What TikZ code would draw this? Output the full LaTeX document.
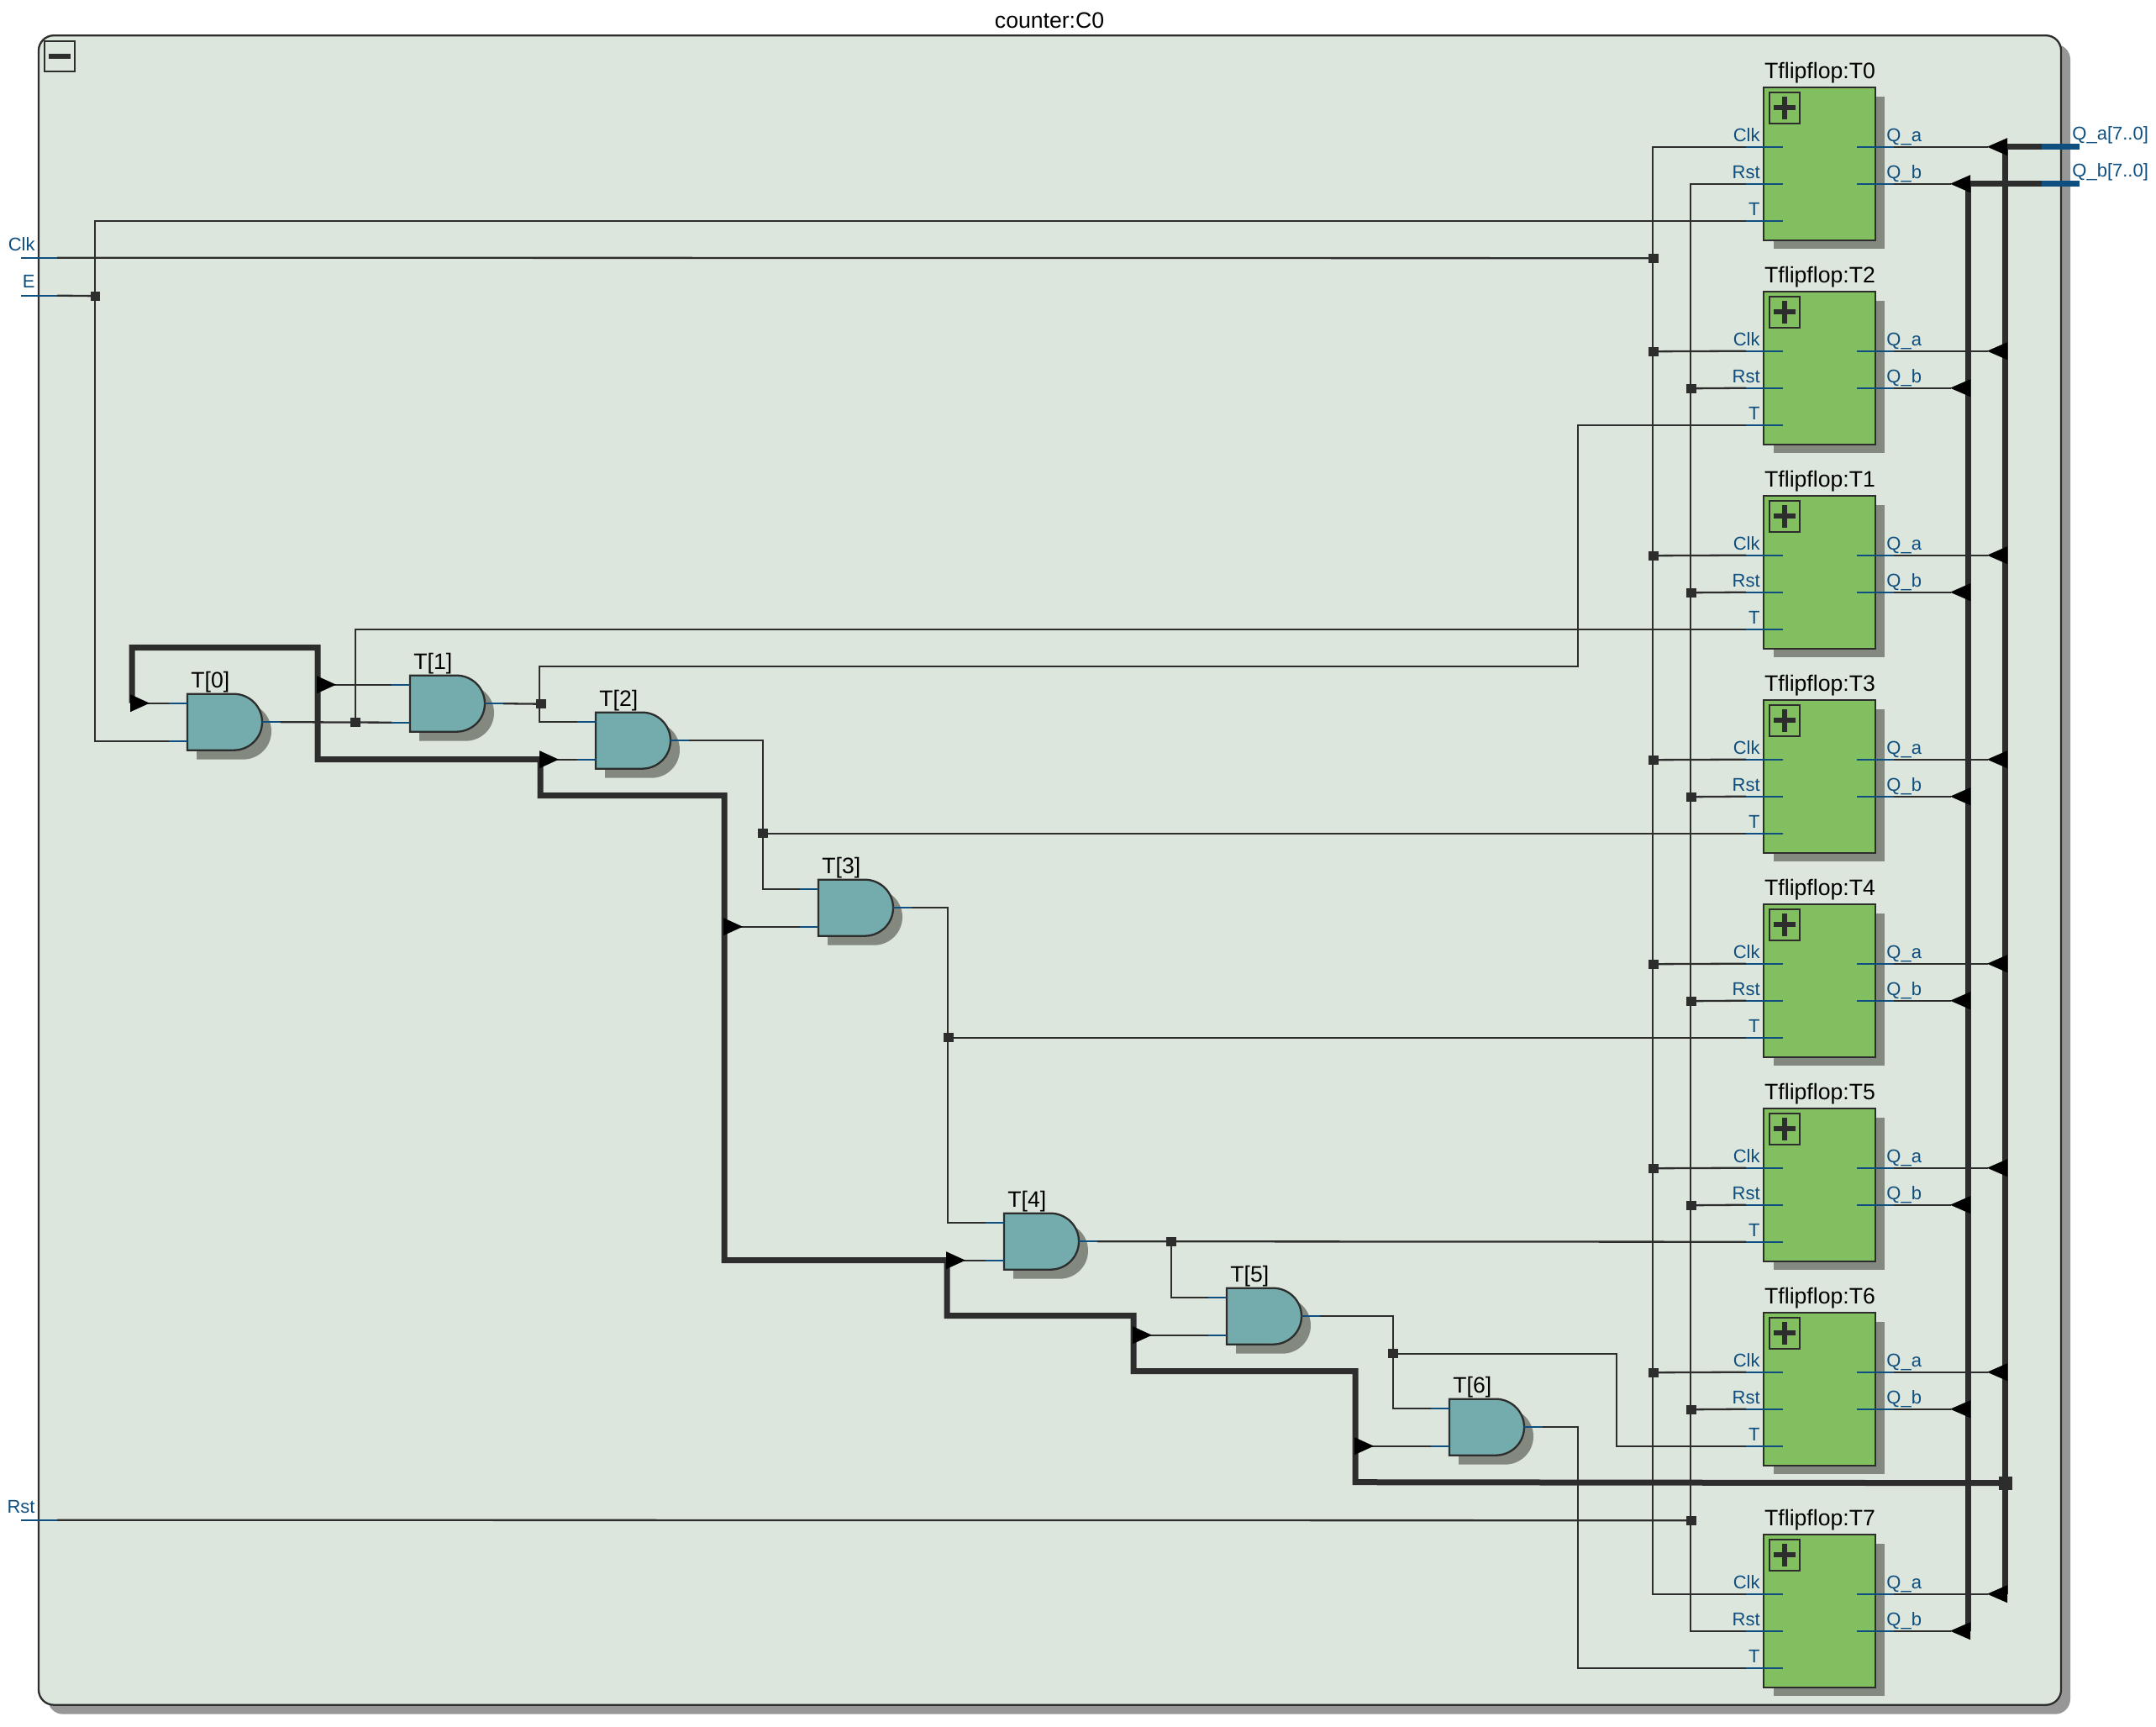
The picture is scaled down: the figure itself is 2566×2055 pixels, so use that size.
\documentclass[tikz,border=0pt]{standalone}
\usepackage{fontspec}
\setmainfont{Liberation Sans}
\definecolor{framefill}{HTML}{DDE6DD}
\definecolor{outshadow}{HTML}{979797}
\definecolor{inshadow}{HTML}{83897F}
\definecolor{ffgreen}{HTML}{82BF60}
\definecolor{gateteal}{HTML}{74ACAD}
\definecolor{darkline}{HTML}{2D2D2D}
\definecolor{portblue}{HTML}{0F4F7F}
\tikzset{
  thinwire/.style={draw=darkline,line width=1.15pt},
  thickwire/.style={draw=darkline,line width=3.5pt},
  portstub/.style={draw=portblue,line width=1.15pt},
  busstub/.style={draw=portblue,line width=3.5pt},
  junc/.style={fill=darkline,inner sep=0pt,minimum size=5.6pt,rectangle},
  bigjunc/.style={fill=darkline,inner sep=0pt,minimum size=8pt,rectangle},
  portlabel/.style={text=portblue,font=\fontsize{11}{12}\selectfont,inner sep=0pt},
  titlelabel/.style={text=black,font=\fontsize{13.3}{15}\selectfont,inner sep=0pt},
  tip/.style={fill=black,draw=none}
}
% flip-flop block: name, top y, title
\newcommand{\ffblock}[3]{%
  \begin{scope}[shift={(2099,#2)}]
    \fill[inshadow] (12,11) rectangle (144,192);
    \node[rectangle,draw=darkline,line width=1.15pt,fill=ffgreen,anchor=north west,
      minimum width=66.5pt,minimum height=91pt,inner sep=0pt,outer sep=0pt] (#1) at (0,0) {};
    \draw[darkline,line width=1.15pt] (7,6) rectangle (43,43);
    \fill[darkline] (12,21.5) rectangle (38,27.5);
    \fill[darkline] (22,11) rectangle (28,38);
    \node[titlelabel,anchor=base] (#1-title) at (67,-10) {Tflipflop:#3};
    \coordinate (#1-clk) at (-21,71);
    \coordinate (#1-rst) at (-21,115);
    \coordinate (#1-t) at (-21,159);
    \coordinate (#1-qa) at (155,71);
    \coordinate (#1-qb) at (155,115);
    \node[portlabel,anchor=base east] (#1-lclk) at (-4,65) {Clk};
    \node[portlabel,anchor=base east] (#1-lrst) at (-4,109) {Rst};
    \node[portlabel,anchor=base east] (#1-lt) at (-4,153) {T};
    \node[portlabel,anchor=base west] (#1-lqa) at (146,65) {Q\_a};
    \node[portlabel,anchor=base west] (#1-lqb) at (146,109) {Q\_b};
  \end{scope}}
% stubs of a flip-flop, drawn over the wires
\newcommand{\ffstubs}[2]{%
  \begin{scope}[shift={(2099,#2)}]
    \draw[portstub] (-21,71) -- (23,71);
    \draw[portstub] (-21,115) -- (23,115);
    \draw[portstub] (-21,159) -- (23,159);
    \draw[portstub] (111,71) -- (155,71);
    \draw[portstub] (111,115) -- (155,115);
  \end{scope}}
% AND gate: name, x, y, label
\newcommand{\gateblock}[4]{%
  \begin{scope}[shift={(#2,#3)}]
    \fill[inshadow,shift={(11,11)}] (0,0) -- (55,0) .. controls (74,0) and (89,15) .. (89,33.5)
      .. controls (89,52) and (74,67) .. (55,67) -- (0,67) -- cycle;
    \draw[darkline,fill=gateteal,line width=1.15pt] (0,0) -- (55,0) .. controls (74,0) and (89,15) .. (89,33.5)
      .. controls (89,52) and (74,67) .. (55,67) -- (0,67) -- cycle;
    \node[titlelabel,anchor=base west] (#1-label) at (4,-7) {#4};
    \coordinate (#1-a) at (-22,11);
    \coordinate (#1-b) at (-22,56);
    \coordinate (#1-y) at (111,33.5);
    \draw[portstub] (-22,11) -- (0,11);
    \draw[portstub] (-22,56) -- (0,56);
  \end{scope}}
\newcommand{\gatestub}[3]{%
  \draw[portstub] (#2+89,#3+33.5) -- (#2+111,#3+33.5);}
% triangular tips
\newcommand{\tipright}[2]{\fill[tip] (#1,#2-10.5) -- (#1+23,#2) -- (#1,#2+10.5) -- cycle;}
\newcommand{\tipleft}[2]{\fill[tip] (#1,#2-10.5) -- (#1-24,#2) -- (#1,#2+10.5) -- cycle;}
\begin{document}
\begin{tikzpicture}[x=0.5pt,y=-0.5pt,shift={(0,0.7)}]
\useasboundingbox (0,-0.7) rectangle (2566,2054.3);
\fill[white] (0,-0.7) rectangle (2566,2054.3);
% frame
\fill[outshadow,rounded corners=9pt] (57,52) rectangle (2464,2039);
\draw[draw=darkline,fill=framefill,line width=1.15pt,rounded corners=9pt] (46,41.5) rectangle (2453,2028);
\node[titlelabel,anchor=base] (frametitle) at (1249,33) {counter:C0};
\draw[darkline,line width=1.15pt] (53,48) rectangle (89,84);
\fill[darkline] (58,63) rectangle (84,69);
% flip-flops
\ffblock{ffa}{103}{T0}
\ffblock{ffb}{346}{T2}
\ffblock{ffc}{589}{T1}
\ffblock{ffd}{832}{T3}
\ffblock{ffe}{1075}{T4}
\ffblock{fff}{1318}{T5}
\ffblock{ffg}{1561}{T6}
\ffblock{ffh}{1825}{T7}
% gates
\gateblock{ga}{223}{825}{T[0]}
\gateblock{gb}{488}{803}{T[1]}
\gateblock{gc}{709}{847}{T[2]}
\gateblock{gd}{974}{1046}{T[3]}
\gateblock{ge}{1195}{1443}{T[4]}
\gateblock{gf}{1460}{1532}{T[5]}
\gateblock{gg}{1725}{1664}{T[6]}
% inputs and outputs
\coordinate (inclk) at (68,306);
\coordinate (ine) at (68,351);
\coordinate (inrst) at (68,1808);
\coordinate (outa) at (2430,174);
\coordinate (outb) at (2430,218);
\node[portlabel,anchor=base east] (lclk) at (42,298) {Clk};
\node[portlabel,anchor=base east] (le) at (42,342) {E};
\node[portlabel,anchor=base east] (lrst) at (42,1800) {Rst};
\node[portlabel,anchor=base west] (lqa) at (2466,166) {Q\_a[7..0]};
\node[portlabel,anchor=base west] (lqb) at (2466,210) {Q\_b[7..0]};
% junctions
\node[junc] (je) at (113.5,351.5) {};
\node[junc] (jclk) at (1968,306.5) {};
\node[junc] (jrst) at (2013,1808.5) {};
\node[junc] (jc2) at (1968,417.5) {};
\node[junc] (jc3) at (1968,660.5) {};
\node[junc] (jc4) at (1968,903.5) {};
\node[junc] (jc5) at (1968,1146.5) {};
\node[junc] (jc6) at (1968,1389.5) {};
\node[junc] (jc7) at (1968,1632.5) {};
\node[junc] (jr2) at (2013,461.5) {};
\node[junc] (jr3) at (2013,704.5) {};
\node[junc] (jr4) at (2013,947.5) {};
\node[junc] (jr5) at (2013,1190.5) {};
\node[junc] (jr6) at (2013,1433.5) {};
\node[junc] (jr7) at (2013,1676.5) {};
\node[junc] (jga) at (423,859) {};
\node[junc] (jgb) at (644,837) {};
\node[junc] (jgc) at (908,991) {};
\node[junc] (jgd) at (1129,1234) {};
\node[junc] (jge) at (1394,1477) {};
\node[junc] (jgf) at (1658,1610) {};
\node[bigjunc] (jbus) at (2387,1764) {};
% thin wires
\draw[thinwire] (inclk) -- (jclk.center);
\draw[thinwire] (ine) -- (je.center);
\draw[thinwire] (inrst) -- (jrst.center);
\draw[thinwire] (ffa-clk) -| (1967,0 |- ffh-clk) -- (ffh-clk);
\draw[thinwire] (ffa-rst) -| (2012,0 |- ffh-rst) -- (ffh-rst);
\foreach \b/\c/\r in {ffb/jc2/jr2,ffc/jc3/jr3,ffd/jc4/jr4,ffe/jc5/jr5,fff/jc6/jr6,ffg/jc7/jr7}{
  \draw[thinwire] (\c.center) -- (\b-clk);
  \draw[thinwire] (\r.center) -- (\b-rst);
}
\draw[thinwire] (ffa-t) -| (113,351) |- (ga-b);
\draw[thinwire] (ga-y) -- (gb-b);
\draw[thinwire] (jga.center) |- (ffc-t);
\draw[thinwire] (gb-y) -- (jgb.center);
\draw[thinwire] (gc-a) -| (642,792) -- (1878,792) |- (ffb-t);
\draw[thinwire] (gc-y) -| (908,1000) |- (gd-a);
\draw[thinwire] (jgc.center) -- (ffd-t);
\draw[thinwire] (gd-y) -| (1128,1300) |- (ge-a);
\draw[thinwire] (jgd.center) -- (ffe-t);
\draw[thinwire] (ge-y) -- (fff-t);
\draw[thinwire] (jge.center) |- (gf-a);
\draw[thinwire] (gf-y) -| (1658,1640) |- (gg-a);
\draw[thinwire] (jgf.center) -| (1924,1700) |- (ffg-t);
\draw[thinwire] (gg-y) -| (1878,1800) |- (ffh-t);
\foreach \f in {ffa,ffb,ffc,ffd,ffe,fff,ffg,ffh}{
  \draw[thinwire] (\f-qa) -- (2366,0 |- \f-qa);
  \draw[thinwire] (\f-qb) -- (2322,0 |- \f-qb);
}
\draw[thinwire] (378,814) -- (gb-a);
\draw[thinwire] (157,836) -- (ga-a);
\draw[thinwire] (643,903) -- (gc-b);
\draw[thinwire] (862,1102) -- (gd-b);
\draw[thinwire] (1127,1499) -- (ge-b);
\draw[thinwire] (1349,1588) -- (gf-b);
\draw[thinwire] (1613,1720) -- (gg-b);
% buses
\draw[thickwire] (157,836) -- (157,770) -- (378,770) -- (378,903) -- (643,903) -- (643,946)
  -- (862,946) -- (862,1499) -- (1127,1499) -- (1127,1565) -- (1349,1565) -- (1349,1631)
  -- (1613,1631) -- (1613,1763) -- (jbus.center);
\draw[thickwire] (outa) -- (2386,174) -- (2386,1896);
\draw[thickwire] (outb) -- (2342,218) -- (2342,1940);
\draw[busstub] (outa) -- (2475,174);
\draw[busstub] (outb) -- (2475,218);
% port stubs
\draw[portstub] (inclk) -- (25,306);
\draw[portstub] (ine) -- (25,351);
\draw[portstub] (inrst) -- (25,1808);
\ffstubs{ffa}{103}
\ffstubs{ffb}{346}
\ffstubs{ffc}{589}
\ffstubs{ffd}{832}
\ffstubs{ffe}{1075}
\ffstubs{fff}{1318}
\ffstubs{ffg}{1561}
\ffstubs{ffh}{1825}
\gatestub{ga}{223}{825}
\gatestub{gb}{488}{803}
\gatestub{gc}{709}{847}
\gatestub{gd}{974}{1046}
\gatestub{ge}{1195}{1443}
\gatestub{gf}{1460}{1532}
\gatestub{gg}{1725}{1664}
% tips
\tipright{155}{836}
\tipright{377}{814}
\tipright{642}{903}
\tipright{861}{1102}
\tipright{1126}{1499}
\tipright{1348}{1588}
\tipright{1612}{1720}
\foreach \y in {174,417,660,903,1146,1389,1632,1896}{\tipleft{2389}{\y}}
\foreach \y in {218,461,704,947,1190,1433,1676,1940}{\tipleft{2345}{\y}}
\end{tikzpicture}
\end{document}
